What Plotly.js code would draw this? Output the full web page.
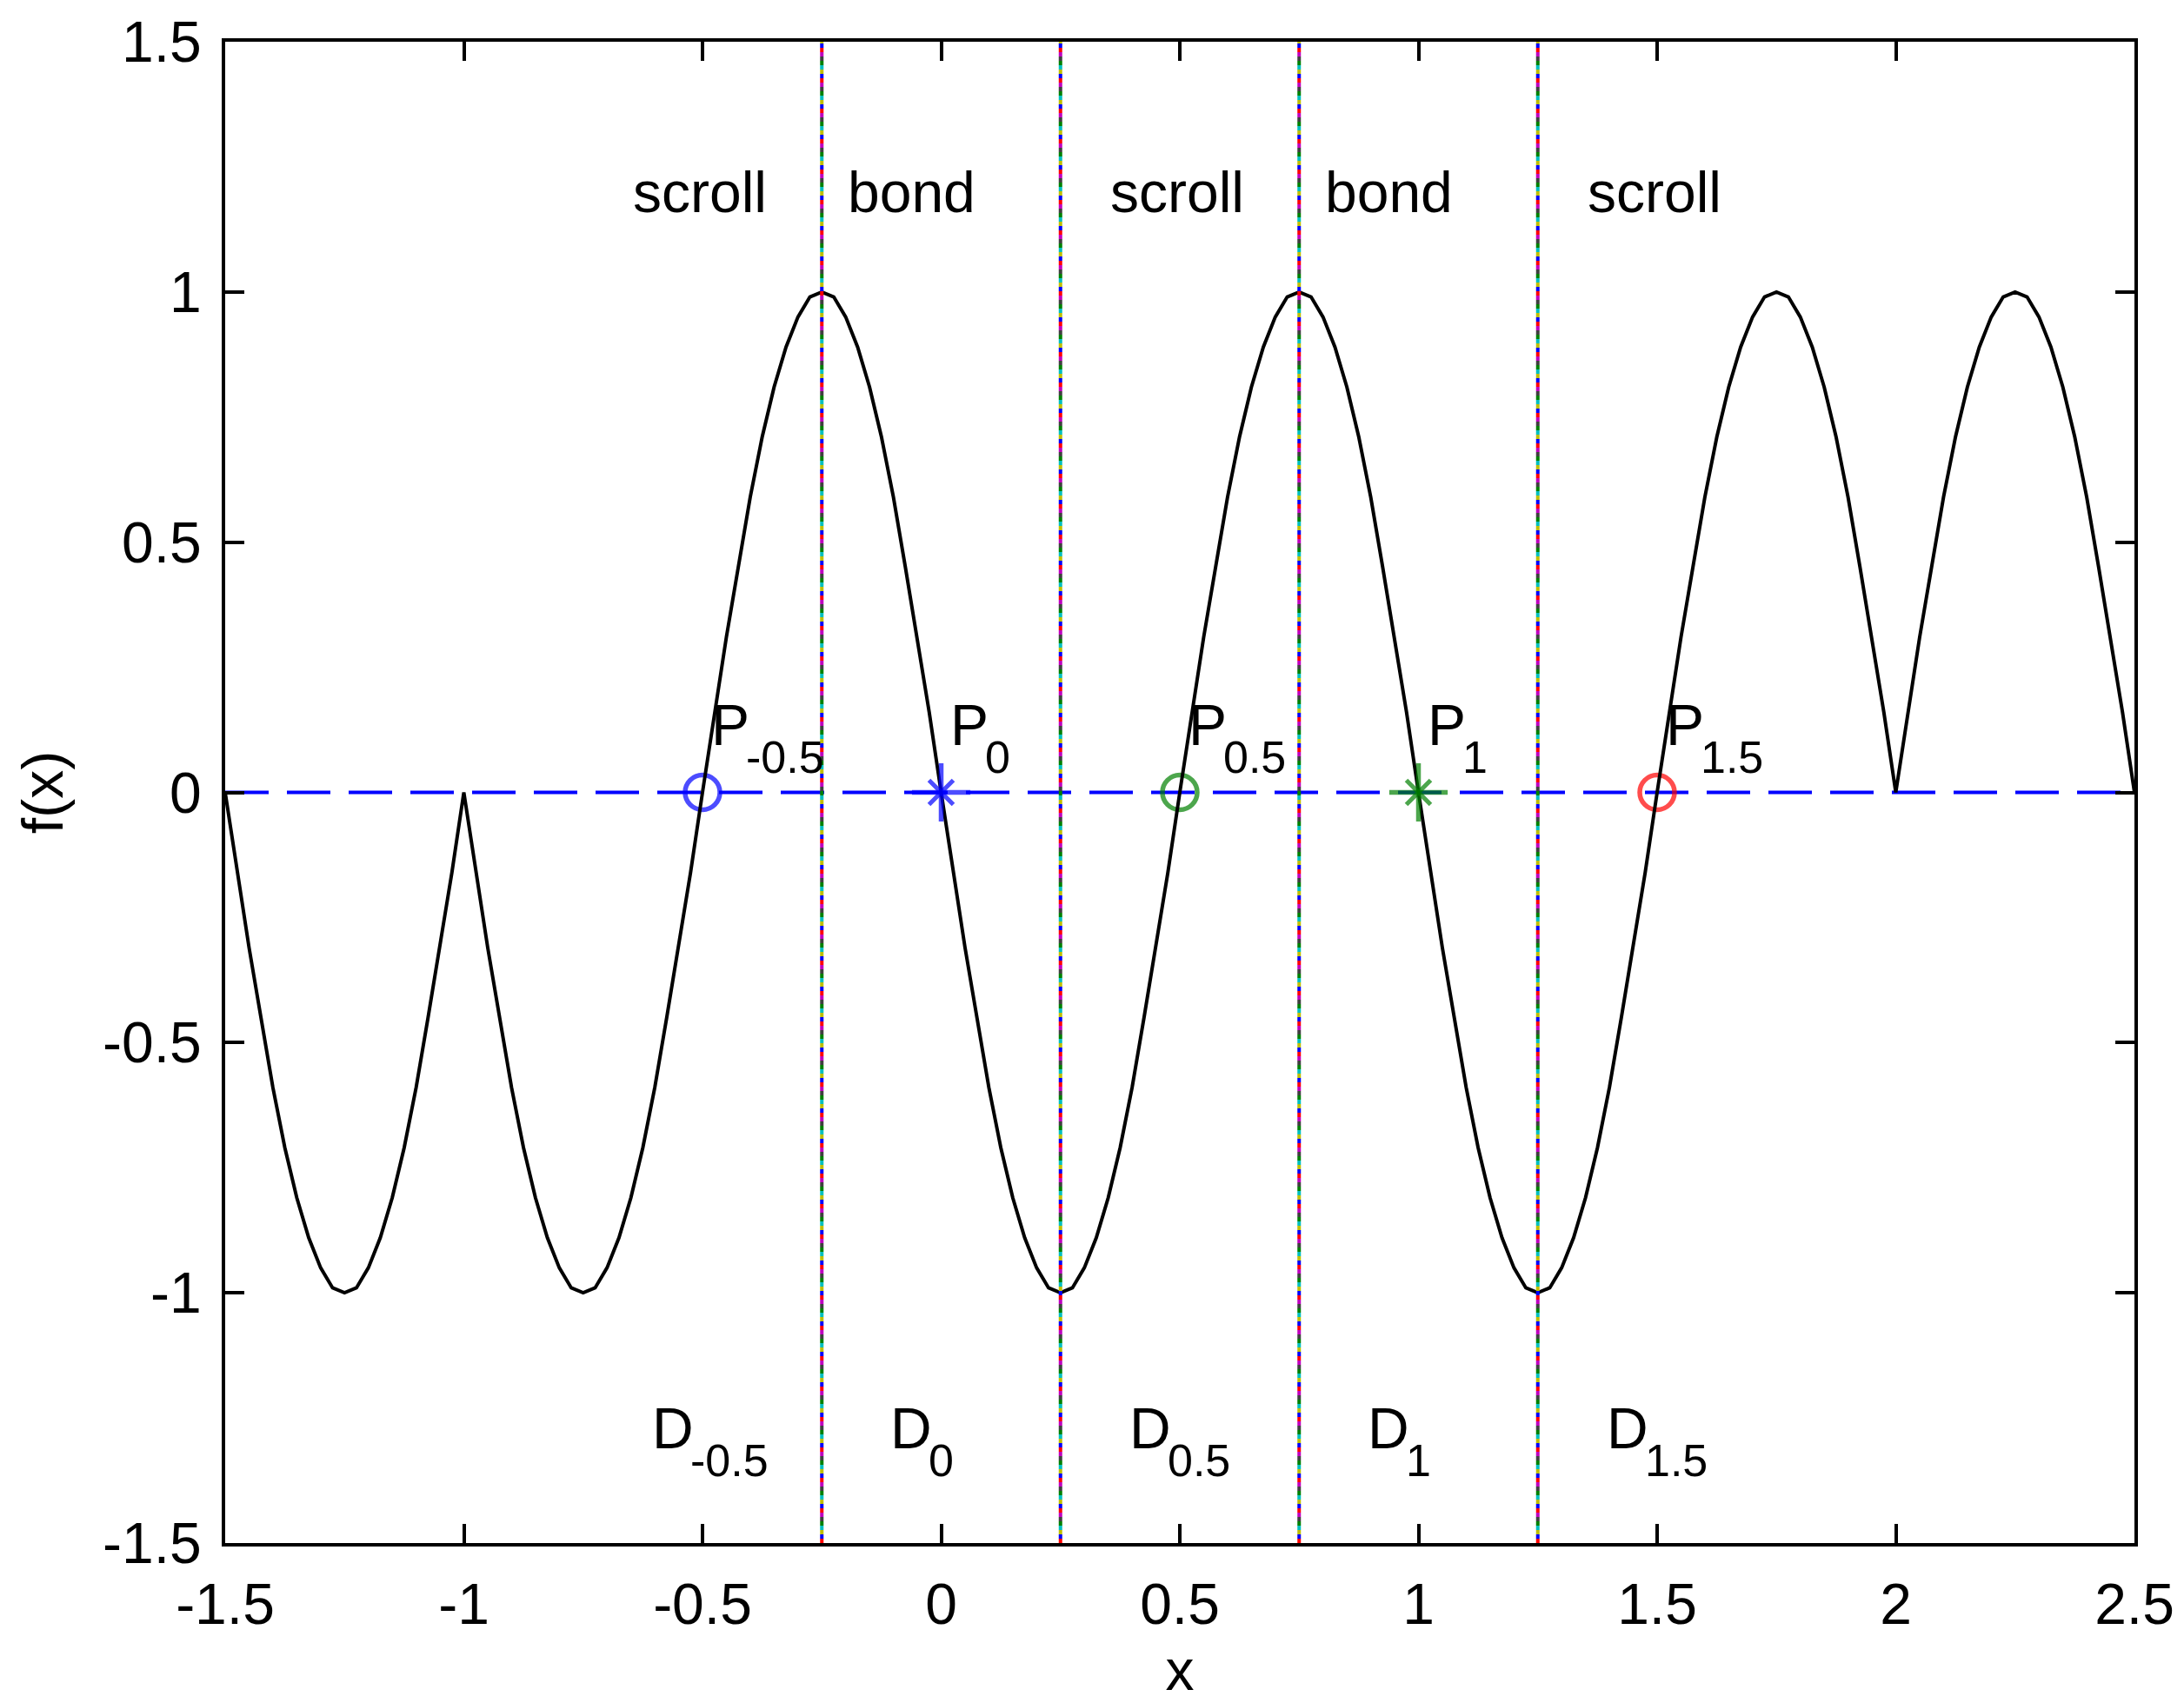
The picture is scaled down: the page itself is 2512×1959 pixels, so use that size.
<!DOCTYPE html>
<html>
<head>
<meta charset="utf-8">
<script src="https://cdn.plot.ly/plotly-3.0.1.min.js"></script>
<style>
  html, body { margin: 0; padding: 0; background: #fff; }
  #myDiv { width: 2512px; height: 1959px; }
</style>
</head>
<body>
<div id="myDiv"></div>
<script>
// f(x), one value every 0.025 from x = -1.5 to 2.5
var curveX0 = -1.5;
var curveDx = 0.025;
var curveY = [
  // -1.5 .. -1
  0, -0.16, -0.31, -0.45, -0.59, -0.71, -0.81, -0.89, -0.95, -0.99,
  -1, -0.99, -0.95, -0.89, -0.81, -0.71, -0.59, -0.45, -0.31, -0.16,
  // -1 .. -0.5
  0, -0.16, -0.31, -0.45, -0.59, -0.71, -0.81, -0.89, -0.95, -0.99,
  -1, -0.99, -0.95, -0.89, -0.81, -0.71, -0.59, -0.45, -0.31, -0.16,
  // -0.5 .. 0
  0, 0.16, 0.31, 0.45, 0.59, 0.71, 0.81, 0.89, 0.95, 0.99,
  1, 0.99, 0.95, 0.89, 0.81, 0.71, 0.59, 0.45, 0.31, 0.16,
  // 0 .. 0.5
  0, -0.16, -0.31, -0.45, -0.59, -0.71, -0.81, -0.89, -0.95, -0.99,
  -1, -0.99, -0.95, -0.89, -0.81, -0.71, -0.59, -0.45, -0.31, -0.16,
  // 0.5 .. 1
  0, 0.16, 0.31, 0.45, 0.59, 0.71, 0.81, 0.89, 0.95, 0.99,
  1, 0.99, 0.95, 0.89, 0.81, 0.71, 0.59, 0.45, 0.31, 0.16,
  // 1 .. 1.5
  0, -0.16, -0.31, -0.45, -0.59, -0.71, -0.81, -0.89, -0.95, -0.99,
  -1, -0.99, -0.95, -0.89, -0.81, -0.71, -0.59, -0.45, -0.31, -0.16,
  // 1.5 .. 2
  0, 0.16, 0.31, 0.45, 0.59, 0.71, 0.81, 0.89, 0.95, 0.99,
  1, 0.99, 0.95, 0.89, 0.81, 0.71, 0.59, 0.45, 0.31, 0.16,
  // 2 .. 2.5
  0, 0.16, 0.31, 0.45, 0.59, 0.71, 0.81, 0.89, 0.95, 0.99,
  1, 0.99, 0.95, 0.89, 0.81, 0.71, 0.59, 0.45, 0.31, 0.16,
  0
];

// the dashed zero line
var baseX = [-1.5, 2.5];
var baseY = [0, 0];

// the marked points P ('o' and '*')
var pointX = [-0.5, 0, 0.5, 1, 1.5];
var pointY = [0, 0, 0, 0, 0];
var pointIsStar = [false, true, false, true, false];
var pointColor = ['#0000ff', '#0000ff', '#008000', '#008000', '#ff0000'];

// region borders
var borderX = [-0.25, 0.25, 0.75, 1.25];
var borderYRange = [-1.5, 1.5];
var borderColors = ['#ff0000', '#0000ff', '#bfbf00', '#00bfbf', '#008000', '#404040', '#bf00bf'];

// text labels
var regionText = ['scroll', 'bond', 'scroll', 'bond', 'scroll'];
var regionX = [-0.65, -0.2, 0.35, 0.8, 1.35];
var regionY = 1.2;

var pMain = 'P';
var pSub = ['-0.5', '0', '0.5', '1', '1.5'];
var pX = [-0.485, 0.015, 0.515, 1.015, 1.515];
var pY = 0.135;
var pSubY = 0.07;

var dMain = 'D';
var dSub = ['-0.5', '0', '0.5', '1', '1.5'];
var dX = [-0.61, -0.11, 0.39, 0.89, 1.39];
var dY = -1.27;
var dSubY = -1.335;

var tickVals = [-1.5, -1, -0.5, 0, 0.5, 1, 1.5, 2, 2.5];
var xTickText = ['-1.5', '-1', '-0.5', '0', '0.5', '1', '1.5', '2', '2.5'];
var yTickVals = [-1.5, -1, -0.5, 0, 0.5, 1, 1.5];
var yTickText = ['-1.5', '-1', '-0.5', '0', '0.5', '1', '1.5'];

var FONT = 'Liberation Sans, Arial, Helvetica, sans-serif';
var FS = 66;
var FS_SUB = 52;

var baseLine = {
  x: baseX, y: baseY,
  mode: 'lines', type: 'scatter',
  line: { color: '#0000ff', width: 4, dash: '50px,21px' }
};

var curve = {
  x0: curveX0, dx: curveDx, y: curveY,
  mode: 'lines', type: 'scatter',
  line: { color: '#000000', width: 4 }
};

// 'o' points, drawn under the curve
var circles = {
  x: pointX, y: pointY,
  mode: 'markers', type: 'scatter',
  marker: {
    symbol: 'circle-open',
    size: pointIsStar.map(function (s) { return s ? 0 : 40; }),
    color: pointColor,
    line: { color: pointColor, width: 5.5 }
  }
};

// '*' points, drawn over the curve: upright cross plus short diagonals
var starCross = {
  x: pointX, y: pointY,
  mode: 'markers', type: 'scatter',
  marker: {
    symbol: 'cross-thin-open',
    size: pointIsStar.map(function (s) { return s ? 48 : 0; }),
    color: pointColor,
    line: { color: pointColor, width: 5.5 }
  }
};
var starDiag = {
  x: pointX, y: pointY,
  mode: 'markers', type: 'scatter',
  marker: {
    symbol: 'x-thin-open',
    size: pointIsStar.map(function (s) { return s ? 28 : 0; }),
    color: pointColor,
    line: { color: pointColor, width: 5 }
  }
};

// multicoloured dotted borders: one trace per colour, staggered dashes
var borders = borderColors.map(function (c, k) {
  var xs = [], ys = [];
  borderX.forEach(function (b) {
    xs.push(b, b, null);
    ys.push(borderYRange[0], borderYRange[1], null);
  });
  return {
    x: xs, y: ys,
    mode: 'lines', type: 'scatter',
    line: { color: c, width: 4, dash: '0px,' + (5 * k) + 'px,5px,' + (30 - 5 * k) + 'px' }
  };
});

var annotations = [];
function addText(t, x, y, size, xshift) {
  annotations.push({
    x: x, y: y, xref: 'x', yref: 'y',
    text: t, showarrow: false,
    xanchor: 'left', yanchor: 'middle',
    xshift: xshift || 0,
    font: { family: FONT, size: size, color: '#000' }
  });
}
regionText.forEach(function (t, i) { addText(t, regionX[i], regionY, FS); });
pSub.forEach(function (s, i) {
  addText(pMain, pX[i], pY, FS);
  addText(s, pX[i], pSubY, FS_SUB, 40);
});
dSub.forEach(function (s, i) {
  addText(dMain, dX[i], dY, FS);
  addText(s, dX[i], dSubY, FS_SUB, 44);
});

var axisCommon = {
  showline: true, linecolor: '#000', linewidth: 4,
  mirror: 'ticks', ticks: 'inside', ticklen: 22, tickwidth: 4, tickcolor: '#000',
  showgrid: false, zeroline: false,
  tickfont: { family: FONT, size: FS, color: '#000' }
};

var layout = {
  width: 2512, height: 1959,
  margin: { l: 259, r: 57, t: 48, b: 184 },
  paper_bgcolor: '#fff', plot_bgcolor: '#fff',
  showlegend: false,
  xaxis: Object.assign({}, axisCommon, {
    range: [-1.5, 2.5],
    tickmode: 'array', tickvals: tickVals, ticktext: xTickText,
    ticklabelstandoff: 10,
    title: { text: 'x', font: { family: FONT, size: FS, color: '#000' }, standoff: 18 }
  }),
  yaxis: Object.assign({}, axisCommon, {
    range: [-1.5, 1.5],
    tickmode: 'array', tickvals: yTickVals, ticktext: yTickText,
    ticklabelstandoff: 10,
    title: { text: 'f(x)', font: { family: FONT, size: FS, color: '#000' }, standoff: 25 }
  }),
  annotations: annotations
};

var data = [baseLine, circles, curve, starCross, starDiag].concat(borders);

Plotly.newPlot('myDiv', data, layout, { staticPlot: true, displayModeBar: false });
</script>
</body>
</html>
